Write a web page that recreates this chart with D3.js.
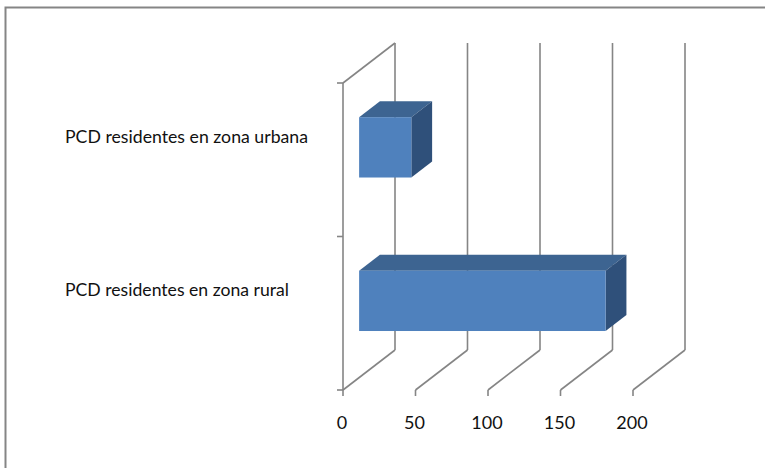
<!DOCTYPE html>
<html>
<head>
<meta charset="utf-8">
<script src="https://cdn.jsdelivr.net/npm/d3@7"></script>
<style>
  html, body { margin: 0; padding: 0; background: #ffffff; }
  svg { display: block; }
  text { font-family: Lato, "Open Sans", sans-serif; fill: #111111; }
</style>
</head>
<body>
<svg id="chart" width="765" height="468"></svg>
<script>
// ---- data ----
const categories = ["PCD residentes en zona urbana", "PCD residentes en zona rural"];
const values = [36, 170];
const tickValues = [0, 50, 100, 150, 200];
const tickLabels = ["0", "50", "100", "150", "200"];

// ---- layout ----
const W = 765, H = 468;
const svg = d3.select("#chart");
const depth = { dx: 52, dy: -40 };     // wall depth projection
const barDepth = [0.31, 0.71];          // bar position within depth
const gridColor = "#858585";
const lw = 1.6;

const x = d3.scaleLinear().domain([0, 200]).range([343, 633]);
const y = d3.scaleBand().domain(categories).range([83, 390]).padding(0);
const barH = y.bandwidth() * 0.393;

// chart border
svg.append("rect")
  .attr("x", 5.5).attr("y", 7.5)
  .attr("width", W + 20).attr("height", H + 20)
  .attr("fill", "#ffffff")
  .attr("stroke", gridColor).attr("stroke-width", 2);

const g = svg.append("g");
const y0 = y.range()[0], y1 = y.range()[1];

// back wall gridlines
g.selectAll("line.grid").data(tickValues).join("line")
  .attr("class", "grid")
  .attr("x1", d => x(d) + depth.dx).attr("x2", d => x(d) + depth.dx)
  .attr("y1", y1 + depth.dy).attr("y2", y0 + depth.dy)
  .attr("stroke", gridColor).attr("stroke-width", lw);

// floor lines
g.selectAll("line.floor").data(tickValues).join("line")
  .attr("class", "floor")
  .attr("x1", d => x(d)).attr("y1", y1)
  .attr("x2", d => x(d) + depth.dx).attr("y2", y1 + depth.dy)
  .attr("stroke", gridColor).attr("stroke-width", lw);

// left wall: front vertical and top diagonal
g.append("line")
  .attr("x1", x(0)).attr("x2", x(0)).attr("y1", y0).attr("y2", y1)
  .attr("stroke", gridColor).attr("stroke-width", lw);
g.append("line")
  .attr("x1", x(0)).attr("y1", y0).attr("x2", x(0) + depth.dx).attr("y2", y0 + depth.dy)
  .attr("stroke", gridColor).attr("stroke-width", lw);

// category axis tick marks
const catTicks = [y0, y0 + y.step(), y1];
g.selectAll("line.ctick").data(catTicks).join("line")
  .attr("class", "ctick")
  .attr("x1", x(0) - 6).attr("x2", x(0))
  .attr("y1", d => d).attr("y2", d => d)
  .attr("stroke", gridColor).attr("stroke-width", lw);

// value axis tick marks
g.selectAll("line.vtick").data(tickValues).join("line")
  .attr("class", "vtick")
  .attr("x1", d => x(d)).attr("x2", d => x(d))
  .attr("y1", y1).attr("y2", y1 + 6)
  .attr("stroke", gridColor).attr("stroke-width", lw);

// value tick labels
g.selectAll("text.vlab").data(tickValues).join("text")
  .attr("class", "vlab")
  .attr("x", d => x(d) - 1).attr("y", 429)
  .attr("text-anchor", "middle")
  .attr("font-size", 18)
  .text((d, i) => tickLabels[i]);

// category labels
const labelWidths = [243, 224];
g.selectAll("text.clab").data(categories).join("text")
  .attr("class", "clab")
  .attr("x", 65)
  .attr("y", d => y(d) + y.bandwidth() / 2 - 17)
  .attr("font-size", 16.5)
  .attr("textLength", (d, i) => labelWidths[i])
  .attr("lengthAdjust", "spacingAndGlyphs")
  .text(d => d);

// 3D bars
const fdx = depth.dx * barDepth[0], fdy = depth.dy * barDepth[0];
const bdx = depth.dx * (barDepth[1] - barDepth[0]), bdy = depth.dy * (barDepth[1] - barDepth[0]);
const bars = g.selectAll("g.bar").data(categories.map((c, i) => ({ c, v: values[i] }))).join("g").attr("class", "bar");

bars.each(function(d) {
  const sel = d3.select(this);
  const xl = x(0) + fdx, xr = x(d.v) + fdx;
  const yc = y(d.c) + y.bandwidth() / 2 + fdy;
  const yt = yc - barH / 2, yb = yc + barH / 2;
  // top face
  sel.append("polygon")
    .attr("points", [[xl, yt], [xr, yt], [xr + bdx, yt + bdy], [xl + bdx, yt + bdy]].map(p => p.join(",")).join(" "))
    .attr("fill", "#3D6491");
  // side face
  sel.append("polygon")
    .attr("points", [[xr, yt], [xr + bdx, yt + bdy], [xr + bdx, yb + bdy], [xr, yb]].map(p => p.join(",")).join(" "))
    .attr("fill", "#2F507A");
  // front face
  sel.append("rect")
    .attr("x", xl).attr("y", yt)
    .attr("width", xr - xl).attr("height", barH)
    .attr("fill", "#4F81BD");
});
</script>
</body>
</html>
